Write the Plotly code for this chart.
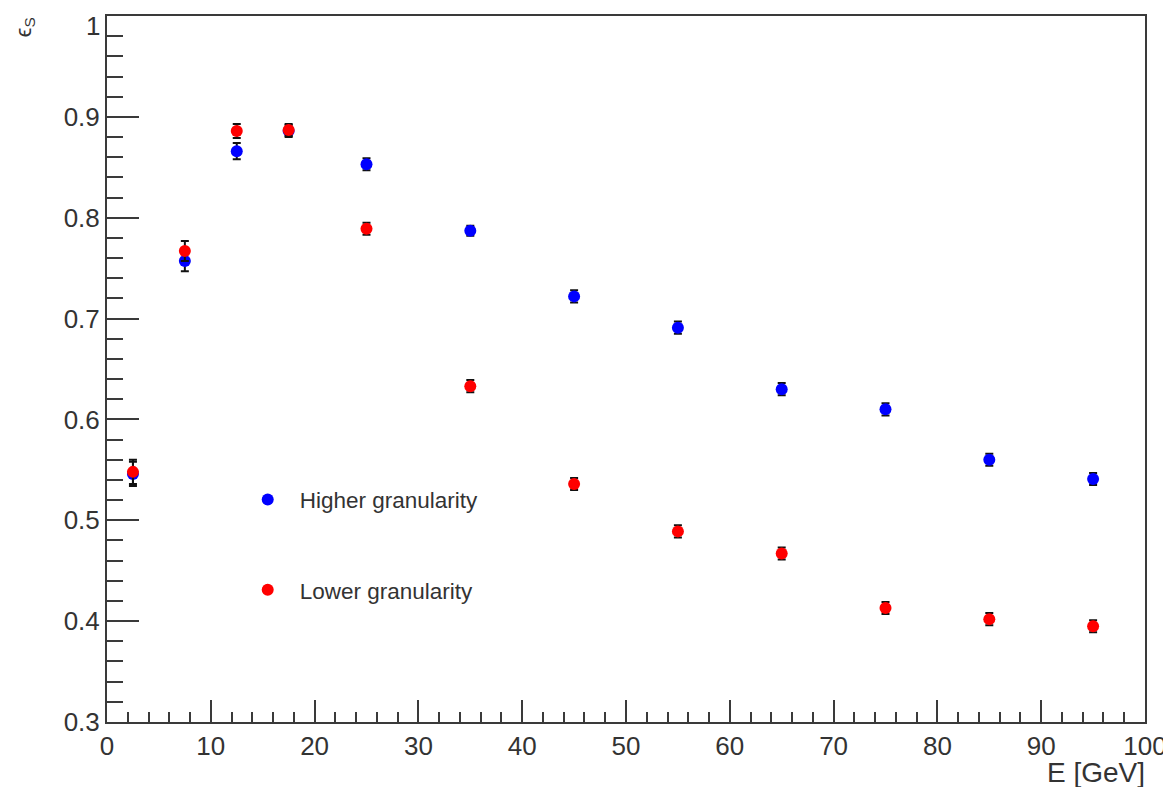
import plotly.graph_objects as go

energy = [2.5, 7.5, 12.5, 17.5, 25, 35, 45, 55, 65, 75, 85, 95]
high_eff = [0.546, 0.757, 0.866, 0.886, 0.853, 0.787, 0.722, 0.691, 0.630, 0.610, 0.560, 0.541]
high_err = [0.012, 0.010, 0.008, 0.006, 0.006, 0.005, 0.006, 0.006, 0.006, 0.006, 0.006, 0.006]
low_eff = [0.548, 0.767, 0.886, 0.887, 0.789, 0.633, 0.536, 0.489, 0.467, 0.413, 0.402, 0.395]
low_err = [0.012, 0.010, 0.007, 0.006, 0.006, 0.006, 0.006, 0.006, 0.006, 0.006, 0.006, 0.006]

series_names = ["Higher granularity", "Lower granularity"]
x_title = "E [GeV]"
y_title = "ϵ<sub>S</sub>"
y_tickvals = [0.3, 0.4, 0.5, 0.6, 0.7, 0.8, 0.9, 1.0]
y_ticktext = ["0.3", "0.4", "0.5", "0.6", "0.7", "0.8", "0.9", ""]
y_top_label = "1"

FONT = "Liberation Sans, Arial, sans-serif"
TXT = "#333333"
AX = "#3a3a3a"

fig = go.Figure()
for name, vals, errs, col, grp in [
    (series_names[0], high_eff, high_err, "#0000ff", "a"),
    (series_names[1], low_eff, low_err, "#ff0000", "b"),
]:
    fig.add_trace(go.Scatter(
        x=energy, y=vals, mode="markers", name=name, legendgroup=grp,
        marker=dict(color=col, size=12, line=dict(width=0)),
        error_y=dict(type="data", array=errs, color="#111111", thickness=2, width=4),
    ))

# page body has an 8px margin, so the figure is shrunk and shifted accordingly
fig.update_layout(
    width=1163, height=779,
    margin=dict(l=99, r=26, t=8, b=65, autoexpand=False),
    paper_bgcolor="white", plot_bgcolor="white",
    font=dict(family=FONT, color=TXT, size=24),
    showlegend=True,
    legend=dict(
        x=0.124, y=0.345, xanchor="left", yanchor="top",
        bgcolor="rgba(0,0,0,0)", borderwidth=0,
        font=dict(size=22.5, family=FONT, color=TXT),
        tracegroupgap=58, itemwidth=54,
    ),
    xaxis=dict(
        range=[0, 100], showgrid=False, zeroline=False, automargin=False,
        showline=True, linecolor=AX, linewidth=2, mirror=True,
        ticks="inside", ticklen=22, tickwidth=2, tickcolor=AX,
        dtick=10, tick0=0, ticklabeloverflow="allow",
        minor=dict(dtick=2, ticks="inside", ticklen=10, tickwidth=2, tickcolor=AX),
        tickfont=dict(size=26, family=FONT, color=TXT),
    ),
    yaxis=dict(
        range=[0.3, 1.0], showgrid=False, zeroline=False, automargin=False,
        showline=True, linecolor=AX, linewidth=2, mirror=True,
        ticks="inside", ticklen=32, tickwidth=2, tickcolor=AX,
        tickmode="array", tickvals=y_tickvals, ticktext=y_ticktext,
        ticklabeloverflow="allow",
        minor=dict(tickmode="linear", tick0=0.3, dtick=0.02, ticks="inside",
                   ticklen=16, tickwidth=2, tickcolor=AX),
        tickfont=dict(size=26, family=FONT, color=TXT),
    ),
    annotations=[
        dict(text=x_title, xref="paper", yref="paper", x=1.002, y=-0.072,
             xanchor="right", yanchor="middle", showarrow=False,
             font=dict(size=28, family=FONT, color=TXT)),
        dict(text=y_title, xref="paper", yref="paper", x=-0.079, y=0.984,
             xanchor="center", yanchor="middle", showarrow=False, textangle=-90,
             font=dict(size=22, family=FONT, color=TXT)),
        dict(text=y_top_label, xref="paper", yref="paper", x=0, y=1,
             xanchor="right", yanchor="top", xshift=-5, yshift=7,
             showarrow=False, font=dict(size=26, family=FONT, color=TXT)),
    ],
)

fig.write_html("out.html")
